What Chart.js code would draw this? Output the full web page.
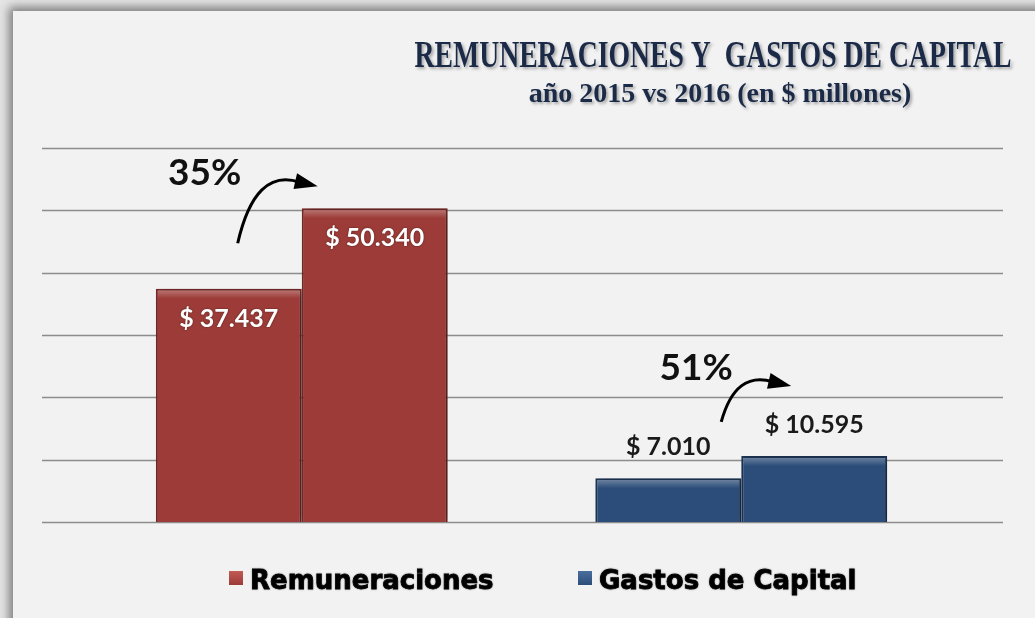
<!DOCTYPE html>
<html>
<head>
<meta charset="utf-8">
<script src="https://cdn.jsdelivr.net/npm/chart.js@4"></script>
<style>
  html, body { margin: 0; padding: 0; background: #e4e4e4; overflow: hidden; }
  #wrap { position: relative; width: 1035px; height: 618px; overflow: hidden; }
  #card {
    position: absolute; left: 13px; top: 11px; width: 1060px; height: 640px;
    background: #f2f2f2; box-shadow: 0 0 9px 4px rgba(0, 0, 0, 0.45);
  }
  #chart { position: absolute; left: 0; top: 0; z-index: 1; }
</style>
</head>
<body>
<div id="wrap">
  <div id="card"></div>
  <canvas id="chart" width="1035" height="618"></canvas>
</div>
<script>
// data
const categories = ["Remuneraciones", "Gastos de Capital"];
const years = ["2015", "2016"];
const values2015 = [37437, 7010];
const values2016 = [50340, 10595];
const growth = ["35%", "51%"];
const yMin = 0;
const yMax = 60000;
const yStep = 10000;

const titleText = "REMUNERACIONES Y  GASTOS DE CAPITAL";
const subtitleText = "año 2015 vs 2016 (en $ millones)";

// colours per category
const fillColors = ["#9c3b37", "#2c4d79"];
const edgeColors = ["#7a2a27", "#1d3657"];
const lightColors = ["#c25a55", "#4a6e9e"];

// helpers
function money(v) {
  return "$ " + String(v).replace(/\B(?=(\d{3})+(?!\d))/g, ".");
}

function drawArrow(ctx, sx, sy, tx, ty) {
  const hx = tx - 22, hy = ty - 5;
  const cx = sx + (hx - sx) * 0.3;
  const cy = hy - (sy - hy) * 0.15 - 5;
  ctx.save();
  ctx.strokeStyle = "#000";
  ctx.fillStyle = "#000";
  ctx.lineWidth = 3;
  ctx.beginPath();
  ctx.moveTo(sx, sy);
  ctx.quadraticCurveTo(cx, cy, hx + 4, hy + 1);
  ctx.stroke();
  // head
  const dx = tx - hx, dy = ty - hy;
  const len = Math.hypot(dx, dy);
  const ux = dx / len, uy = dy / len;
  const bx = tx - ux * 23, by = ty - uy * 23;
  ctx.beginPath();
  ctx.moveTo(tx, ty);
  ctx.lineTo(bx - uy * 8, by + ux * 8);
  ctx.lineTo(bx + uy * 8, by - ux * 8);
  ctx.closePath();
  ctx.fill();
  ctx.restore();
}

// growth annotations, offsets from the 2016 bar (centre x, top y)
const growthLayout = [
  { text: [-170, -23], from: [-137, 35], to: [-57, -22] },
  { text: [-118, -76], from: [-93, -34], to: [-23, -70] },
];

const decorPlugin = {
  id: "decor",
  beforeDatasetsDraw(chart) {
    const { ctx } = chart;
    const y = chart.scales.y;
    ctx.save();
    ctx.strokeStyle = "#8c8c8c";
    ctx.lineWidth = 1.6;
    y.ticks.forEach((t) => {
      const py = Math.round(y.getPixelForValue(t.value)) + 0.5;
      ctx.beginPath();
      ctx.moveTo(42, py);
      ctx.lineTo(1003, py);
      ctx.stroke();
    });
    ctx.restore();
    // shadow for the bars
    ctx.save();
    ctx.shadowColor = "rgba(0,0,0,0.4)";
    ctx.shadowBlur = 8;
    ctx.shadowOffsetX = 3;
    ctx.shadowOffsetY = 1;
  },
  afterDatasetsDraw(chart) {
    const { ctx } = chart;
    ctx.restore();

    // bevel highlight
    chart.data.datasets.forEach((ds, di) => {
      chart.getDatasetMeta(di).data.forEach((bar) => {
        const l = bar.x - bar.width / 2, r = bar.x + bar.width / 2;
        const g = ctx.createLinearGradient(0, bar.y, 0, bar.y + 10);
        g.addColorStop(0, "rgba(255,255,255,0.35)");
        g.addColorStop(1, "rgba(255,255,255,0)");
        ctx.fillStyle = g;
        ctx.fillRect(l + 2, bar.y + 2, r - l - 4, 10);
      });
    });

    // value labels
    chart.data.datasets.forEach((ds, di) => {
      chart.getDatasetMeta(di).data.forEach((bar, i) => {
        const v = ds.data[i];
        const inside = bar.base - bar.y > 120;
        ctx.save();
        ctx.font = "bold 25px Lato";
        ctx.textAlign = "center";
        ctx.textBaseline = "middle";
        if (inside) {
          ctx.fillStyle = "#ffffff";
          ctx.shadowColor = "rgba(0,0,0,0.5)";
          ctx.shadowBlur = 2;
          ctx.fillText(money(v), bar.x, bar.y + 30);
        } else {
          ctx.fillStyle = "#1a1a1a";
          ctx.fillText(money(v), bar.x, bar.y - 31);
        }
        ctx.restore();
      });
    });

    // growth annotations
    const meta16 = chart.getDatasetMeta(1);
    growth.forEach((g, i) => {
      const bar = meta16.data[i];
      const lay = growthLayout[i];
      ctx.save();
      ctx.font = "bold 37px Lato";
      ctx.textAlign = "center";
      ctx.fillStyle = "#111";
      ctx.fillText(g, bar.x + lay.text[0], bar.y + lay.text[1]);
      ctx.restore();
      drawArrow(ctx, bar.x + lay.from[0], bar.y + lay.from[1], bar.x + lay.to[0], bar.y + lay.to[1]);
    });

    // title
    ctx.save();
    ctx.textAlign = "center";
    ctx.fillStyle = "#1b2a47";
    ctx.shadowColor = "rgba(0,0,0,0.3)";
    ctx.shadowBlur = 3;
    ctx.shadowOffsetX = 2;
    ctx.shadowOffsetY = 2;
    ctx.font = "bold 38px 'Liberation Serif'";
    ctx.fillText(titleText, 713, 67, 597);
    ctx.font = "bold 28px 'Liberation Serif'";
    ctx.fillText(subtitleText, 720, 102, 386);
    ctx.restore();

    // legend
    const legendX = [229, 578];
    categories.forEach((c, i) => {
      const x = legendX[i];
      ctx.save();
      const g = ctx.createLinearGradient(0, 571, 0, 585);
      g.addColorStop(0, lightColors[i]);
      g.addColorStop(1, fillColors[i]);
      ctx.fillStyle = g;
      ctx.fillRect(x, 571, 14, 14);
      ctx.font = "bold 26px 'DejaVu Sans'";
      ctx.textBaseline = "alphabetic";
      ctx.fillStyle = "#000";
      ctx.strokeStyle = "#000";
      ctx.lineWidth = 0.8;
      ctx.shadowColor = "rgba(0,0,0,0.3)";
      ctx.shadowBlur = 2;
      ctx.fillText(c, x + 21, 589);
      ctx.strokeText(c, x + 21, 589);
      ctx.restore();
    });
  },
};

new Chart(document.getElementById("chart"), {
  type: "bar",
  data: {
    labels: categories,
    datasets: years.map((yr, k) => ({
      label: yr,
      data: k === 0 ? values2015 : values2016,
      backgroundColor: fillColors,
      borderColor: edgeColors,
      borderWidth: 2,
      barPercentage: 1,
      categoryPercentage: 0.664,
    })),
  },
  options: {
    responsive: false,
    animation: false,
    layout: { padding: { left: 82, right: 74, top: 148, bottom: 96 } },
    plugins: {
      legend: { display: false },
      title: { display: false },
      tooltip: { enabled: false },
    },
    scales: {
      x: { display: false, grid: { display: false } },
      y: {
        display: false,
        min: yMin,
        max: yMax,
        ticks: { stepSize: yStep },
        grid: { display: false },
      },
    },
  },
  plugins: [decorPlugin],
});
</script>
</body>
</html>
